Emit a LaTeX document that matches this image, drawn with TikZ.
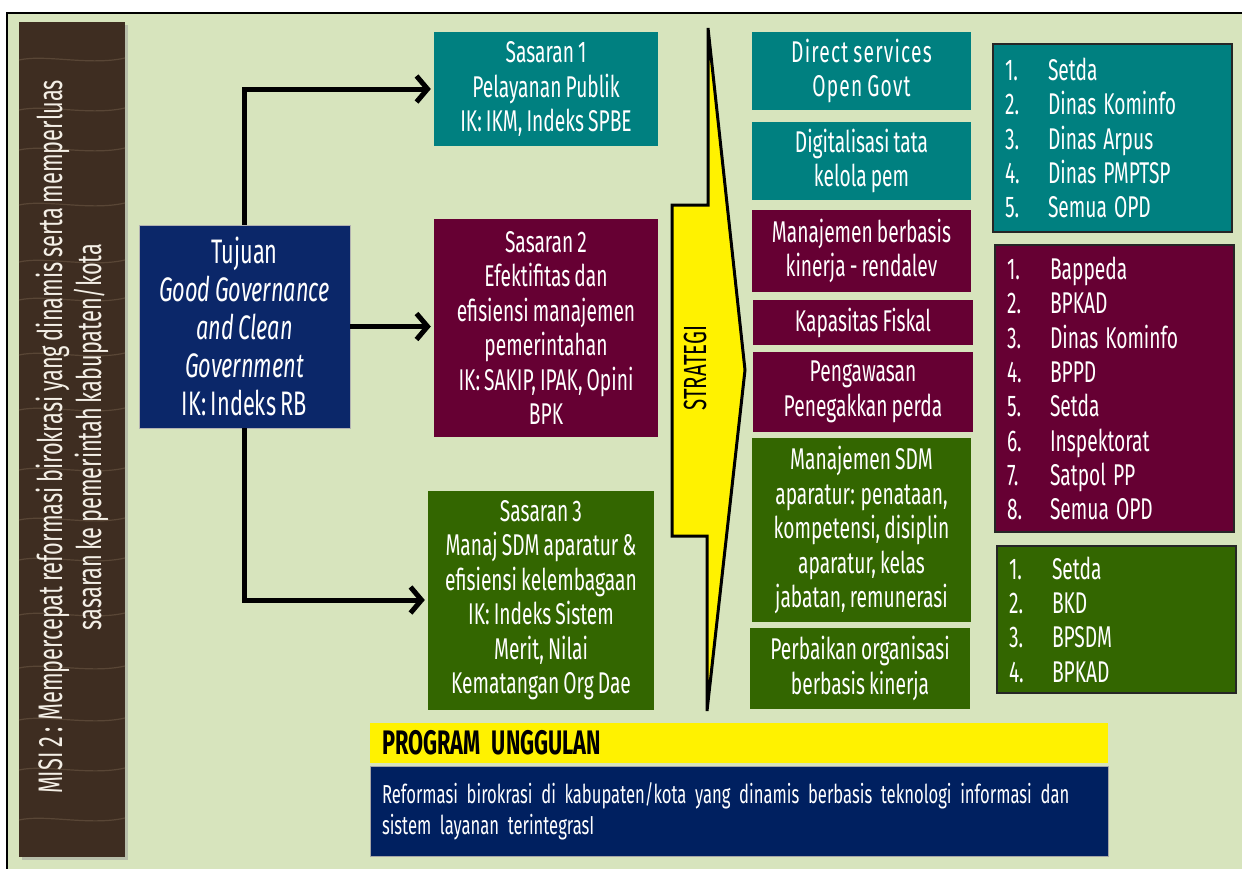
\documentclass[tikz,border=0pt]{standalone}
\usepackage{fontspec}
\usetikzlibrary{arrows.meta}
\newfontfamily\ag[FakeStretch=0.64,WordSpace=0.8]{Fira Sans}
\newcommand{\ws}{\hspace{7pt}}
\definecolor{bg}{HTML}{D7E4BD}
\definecolor{tealc}{HTML}{008080}
\definecolor{maroon}{HTML}{660033}
\definecolor{leaf}{HTML}{336600}
\definecolor{navy}{HTML}{002060}
\definecolor{tujc}{HTML}{0B2769}
\definecolor{wood}{HTML}{3E2D21}
\definecolor{grain}{HTML}{7A6650}
\definecolor{woodtext}{HTML}{F4EFE6}
\tikzset{
  bx/.style={text=white, align=center, inner sep=0pt, font=\ag\fontsize{30}{34.5}\selectfont},
  lst/.style={text=white, align=left, inner xsep=12pt, inner ysep=0pt, text width=215pt,
              minimum width=239pt, draw=black!85, line width=1.2pt,
              font=\ag\fontsize{30}{34.3}\selectfont},
  arr/.style={line width=5pt, -{Straight Barb[length=11pt,width=26pt]}, shorten >=3pt},
  grainline/.style={draw=grain, line width=1.2pt, opacity=0.45}
}
\newcommand{\numcol}[1]{\makebox[43pt][l]{#1}}
\begin{document}
\begin{tikzpicture}[x=1pt,y=-1pt]
\useasboundingbox (0,0) rectangle (1242,868);
\clip (0,0) rectangle (1242,868);
\fill[white] (0,0) rectangle (1242,868);
% frame
\draw[fill=bg, line width=2.5pt] (7,13) rectangle (1262,890);

% wood bar
\fill[black!40, opacity=0.5] (22,25) rectangle (128,860);
\fill[wood] (19,22) rectangle (125,857);
\foreach \yy in {60,110,150,205,262,300,355,410,470,520,560,615,668,720,770,820}{
  \draw[grainline] (19,\yy) .. controls (45,\yy-6) and (90,\yy+6) .. (125,\yy-2);
}
\node[rotate=90, text=woodtext, align=center, font=\ag\fontsize{34}{39}\selectfont] (misi) at (72,437)
  {MISI 2 : Mempercepat reformasi birokrasi yang dinamis serta memperluas\\sasaran ke pemerintah kabupaten/kota};

% tujuan
\node[bx, fill=tujc, draw=black!30, line width=0.6pt, minimum width=211pt, minimum height=203pt,
      font=\ag\fontsize{34}{38}\selectfont] (tuj) at (244.5,326.5)
  {Tujuan\\\textit{Good Governance}\\\textit{and Clean}\\\textit{Government}\\IK: Indeks RB};

% sasaran
\node[bx, fill=tealc, minimum width=224pt, minimum height=114pt] (s1) at (546,89)
  {Sasaran 1\\Pelayanan Publik\\IK: IKM, Indeks SPBE};
\node[bx, fill=maroon, minimum width=224pt, minimum height=218pt] (s2) at (546,328)
  {Sasaran 2\\Efektifitas dan\\efisiensi manajemen\\pemerintahan\\IK: SAKIP, IPAK, Opini\\BPK};
\node[bx, fill=leaf, minimum width=226pt, minimum height=219pt] (s3) at (541,600)
  {Sasaran 3\\Manaj SDM aparatur \&\\efisiensi kelembagaan\\IK: Indeks Sistem\\Merit, Nilai\\Kematangan Org Dae};

% arrows
\draw[arr] (tuj.north) |- (s1.west);
\draw[arr] (tuj.east) -- (tuj.east -| s2.west);
\draw[arr] (tuj.south) |- (s3.west);

% strategi arrow
\draw[line width=3pt, fill=yellow] (708,28) -- (745,370) -- (707,711) -- (707,536) -- (672,536) -- (672,205) -- (708,205) -- cycle;
\node[rotate=90, font=\ag\fontsize{32}{32}\selectfont] (strat) at (695,368) {STRATEGI};

% strategy boxes
\node[bx, fill=tealc, minimum width=219pt, minimum height=78pt] (d1) at (861.5,71) {\addfontfeature{LetterSpace=4}Direct services\\\addfontfeature{LetterSpace=4}Open Govt};
\node[bx, fill=tealc, minimum width=219pt, minimum height=78pt] (d2) at (861.5,161) {Digitalisasi tata\\kelola pem};
\node[bx, fill=maroon, minimum width=219pt, minimum height=82pt] (d3) at (861.5,251) {Manajemen berbasis\\kinerja - rendalev};
\node[bx, fill=maroon, minimum width=220pt, minimum height=45pt] (d4) at (863,322.5) {Kapasitas Fiskal};
\node[bx, fill=maroon, minimum width=220pt, minimum height=80pt] (d5) at (863,392) {Pengawasan\\Penegakkan perda};
\node[bx, fill=leaf, minimum width=219pt, minimum height=184pt] (d6) at (861.5,530)
  {Manajemen SDM\\aparatur: penataan,\\kompetensi, disiplin\\aparatur, kelas\\jabatan, remunerasi};
\node[bx, fill=leaf, minimum width=220pt, minimum height=81pt] (d7) at (860,668.5) {Perbaikan organisasi\\berbasis kinerja};

% lists
\node[lst, fill=tealc, minimum height=188pt] (l1) at (1112.5,138)
  {\numcol{1.}Setda\\\numcol{2.}Dinas\ws Kominfo\\\numcol{3.}Dinas\ws Arpus\\\numcol{4.}Dinas\ws PMPTSP\\\numcol{5.}Semua\ws OPD};
\node[lst, fill=maroon, minimum height=287pt] (l2) at (1114.5,388.5)
  {\numcol{1.}Bappeda\\\numcol{2.}BPKAD\\\numcol{3.}Dinas\ws Kominfo\\\numcol{4.}BPPD\\\numcol{5.}Setda\\\numcol{6.}Inspektorat\\\numcol{7.}Satpol\ws PP\\\numcol{8.}Semua\ws OPD};
\node[lst, fill=leaf, minimum height=147pt] (l3) at (1116.5,619.5)
  {\numcol{1.}Setda\\\numcol{2.}BKD\\\numcol{3.}BPSDM\\\numcol{4.}BPKAD};

% program unggulan
\node[fill=yellow, text width=714pt, inner xsep=12pt, inner ysep=0pt, minimum height=40pt, align=left,
      font=\ag\bfseries\fontsize{34}{34}\selectfont] (pu) at (739,743) {PROGRAM UNGGULAN};
\node[fill=navy, draw=gray!70, line width=0.8pt, text=white, text width=714pt, inner xsep=12pt, inner ysep=0pt,
      minimum height=90pt, align=left, font=\ag\fontsize{26}{31}\selectfont] (pb) at (739,811)
  {Reformasi birokrasi di kabupaten/kota yang dinamis berbasis teknologi informasi dan\\sistem layanan terintegrasI};
\end{tikzpicture}
\end{document}
